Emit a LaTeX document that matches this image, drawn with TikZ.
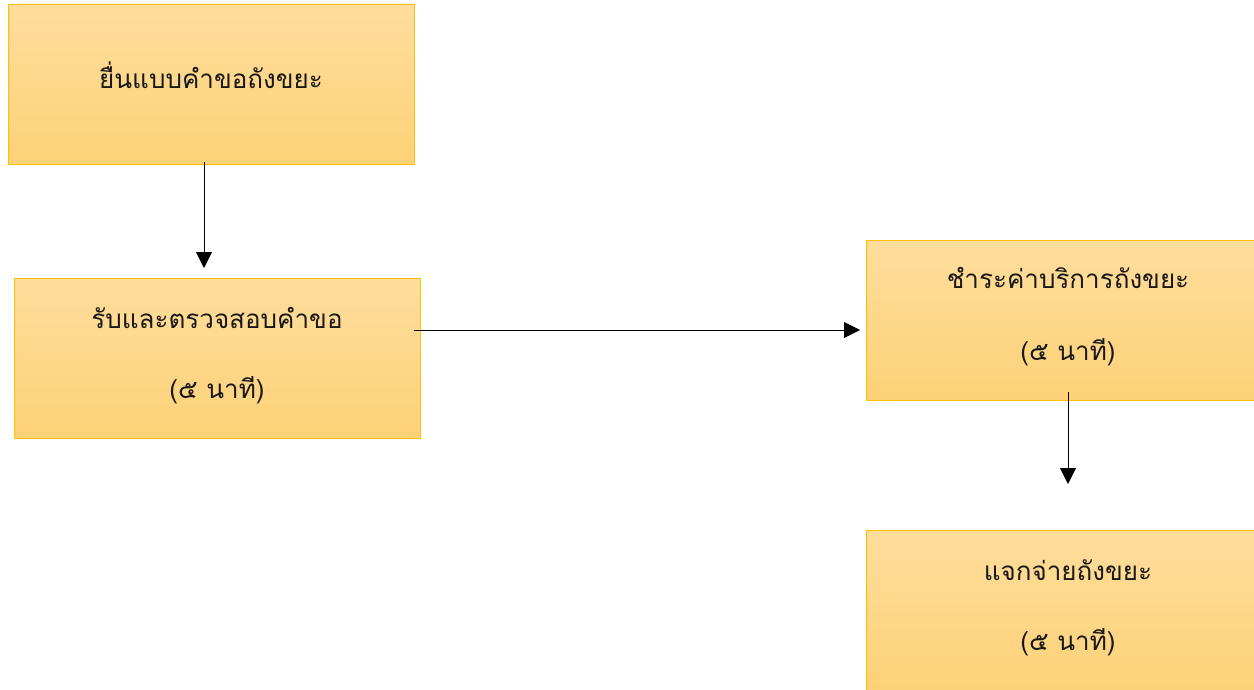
\documentclass[tikz,border=0pt]{standalone}
\usepackage{fontspec}
\newfontfamily\thaifont[Script=Thai]{Loma}
\usetikzlibrary{arrows.meta}
\definecolor{boxtop}{HTML}{FEDD9C}
\definecolor{boxbot}{HTML}{FDD177}
\definecolor{boxline}{HTML}{FFC000}
\begin{document}
\begin{tikzpicture}[x=1pt,y=-1pt,
  procbox/.style={draw=boxline,line width=1pt,top color=boxtop,bottom color=boxbot,inner sep=0pt},
  lbl/.style={font=\thaifont\fontsize{26}{30}\selectfont,inner sep=0pt,text=black!90},
  arr/.style={-{Triangle[length=16pt,width=16pt]},line width=1pt,black}]
\useasboundingbox (0,0) rectangle (1254,690);
\node[procbox,minimum width=406pt,minimum height=160pt] (b1) at (211,85) {};
\node[procbox,minimum width=406pt,minimum height=160pt] (b2) at (217,358) {};
\node[procbox,minimum width=400pt,minimum height=160pt] (b3) at (1066,320) {};
\node[procbox,minimum width=400pt,minimum height=160pt] (b4) at (1066,610) {};
\node[lbl] (t1) at (211,75) {ยื่นแบบคำขอถังขยะ};
\node[lbl] (t2) at (217,318) {รับและตรวจสอบคำขอ};
\node[lbl] (t2b) at (217,390) {(๕ นาที)};
\node[lbl] (t3) at (1068,278) {ชำระค่าบริการถังขยะ};
\node[lbl] (t3b) at (1068,352) {(๕ นาที)};
\node[lbl] (t4) at (1068,570) {แจกจ่ายถังขยะ};
\node[lbl] (t4b) at (1068,642) {(๕ นาที)};
\coordinate (a1s) at (204,162);
\coordinate (a1e) at (204,268);
\coordinate (a2s) at (414,330);
\coordinate (a2e) at (860,330);
\coordinate (a3s) at (1068,392);
\coordinate (a3e) at (1068,484);
\draw[arr] (a1s) -- (a1e);
\draw[arr] (a2s) -- (a2e);
\draw[arr] (a3s) -- (a3e);
\end{tikzpicture}
\end{document}
